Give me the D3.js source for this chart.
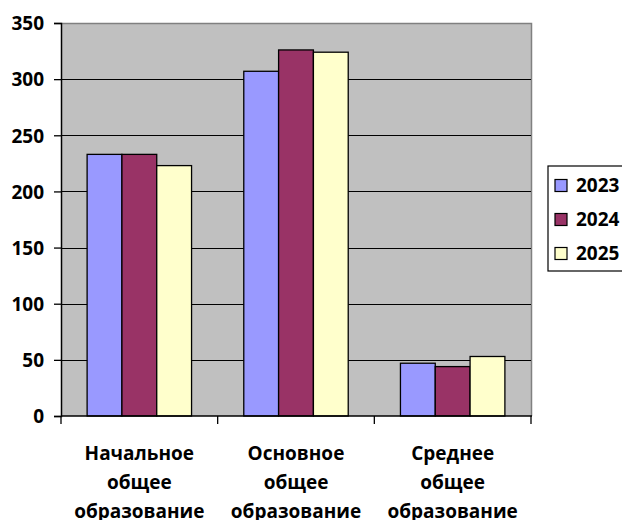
<!DOCTYPE html>
<html><head><meta charset="utf-8">
<script src="https://cdn.jsdelivr.net/npm/d3@7"></script>
<style>body{margin:0;background:#fff}svg{display:block}</style>
</head><body>
<script>
const categories = [["Начальное","общее","образование"],["Основное","общее","образование"],["Среднее","общее","образование"]];
const seriesNames = ["2023","2024","2025"];
const v2023 = [233, 307, 47];
const v2024 = [233, 326, 44];
const v2025 = [223, 324, 53];
const colors = ["#9999FF","#993366","#FFFFCC"];
const yTicks = [0,50,100,150,200,250,300,350];

const W=622,H=520;
const L=61,R=531,T=23,B=416;
const FONT="'Open Sans', sans-serif";
const svg=d3.select("body").append("svg").attr("width",W).attr("height",H);
const catIdx=[0,1,2];
const x=d3.scaleBand().domain(catIdx).range([L,R]).paddingInner(0).paddingOuter(0);
const y=d3.scaleLinear().domain([0,350]).range([B,T]);
const x1=d3.scaleBand().domain([0,1,2]).range([0,x.bandwidth()]).paddingInner(0).paddingOuter(0.75);

svg.append("rect").attr("x",L).attr("y",T).attr("width",R-L).attr("height",B-T).attr("fill","#C0C0C0");
svg.append("path").attr("d",`M${L},${T+0.5}H${R+0.5}V${B}`).attr("fill","none").attr("stroke","#808080").attr("stroke-width",1.5);
svg.append("g").selectAll("line").data(yTicks.filter(d=>d>0&&d<350)).join("line")
  .attr("x1",L).attr("x2",R).attr("y1",d=>Math.round(y(d))+0.5).attr("y2",d=>Math.round(y(d))+0.5)
  .attr("stroke","#000").attr("stroke-width",1.2);

const vals=[v2023,v2024,v2025];
vals.forEach((arr,s)=>{
  svg.append("g").selectAll("rect").data(arr).join("rect")
    .attr("x",(d,i)=>x(i)+x1(s)).attr("y",d=>y(d)).attr("width",x1.bandwidth()).attr("height",d=>B-y(d))
    .attr("fill",colors[s]).attr("stroke","#000").attr("stroke-width",1.3);
});

const ya=svg.append("g").attr("transform",`translate(${L},0)`)
  .call(d3.axisLeft(y).tickValues(yTicks).tickSize(7).tickPadding(10).tickFormat(d3.format("d")));
ya.select(".domain").attr("stroke","#000").attr("stroke-width",1.5);
ya.selectAll(".tick line").attr("stroke","#000").attr("stroke-width",1.3);
ya.selectAll("text").attr("font-family",FONT).attr("font-weight","bold").attr("font-size",19).attr("fill","#000").attr("dy","0.36em");

const xa=svg.append("g").attr("transform",`translate(0,${B})`);
xa.append("line").attr("x1",L).attr("x2",R+1).attr("y1",0).attr("y2",0).attr("stroke","#000").attr("stroke-width",1.5);
xa.selectAll("line.t").data([0,1,2,3]).join("line").attr("class","t")
  .attr("x1",d=>d<3?x(d):R).attr("x2",d=>d<3?x(d):R).attr("y1",0).attr("y2",8).attr("stroke","#000").attr("stroke-width",1.3);
categories.forEach((lines,i)=>{
  const t=xa.append("text").attr("text-anchor","middle").attr("font-family",FONT).attr("font-weight","bold").attr("font-size",19).attr("fill","#000");
  lines.forEach((ln,k)=>t.append("tspan").attr("x",x(i)+x.bandwidth()/2).attr("y",44+k*29).text(ln));
});

const lg=svg.append("g");
lg.append("rect").attr("x",548).attr("y",166).attr("width",90).attr("height",105).attr("fill","#fff").attr("stroke","#000").attr("stroke-width",1.2);
seriesNames.forEach((n,i)=>{
  const cy=185.5+i*34;
  lg.append("rect").attr("x",555).attr("y",cy-6).attr("width",12).attr("height",12).attr("fill",colors[i]).attr("stroke","#000").attr("stroke-width",1.2);
  lg.append("text").attr("x",576).attr("y",cy).attr("dy","0.36em").attr("font-family",FONT).attr("font-weight","bold").attr("font-size",19).text(n);
});
</script>
</body></html>
